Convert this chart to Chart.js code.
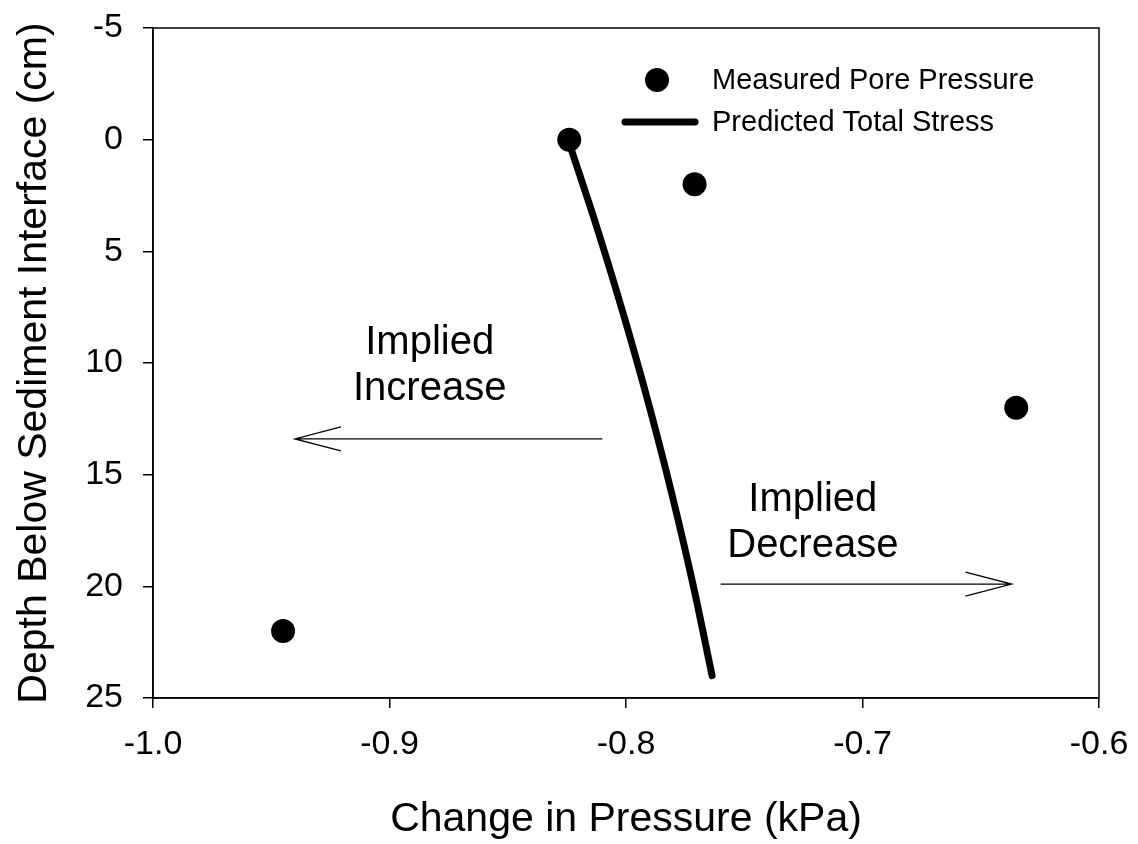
<!DOCTYPE html>
<html>
<head>
<meta charset="utf-8">
<script src="https://cdn.jsdelivr.net/npm/chart.js@4.4.1/dist/chart.umd.min.js"></script>
<style>
  html, body { margin: 0; padding: 0; background: #fff; }
  #wrap { width: 1138px; height: 844px; }
</style>
</head>
<body>
<div id="wrap"><canvas id="c" width="1138" height="844"></canvas></div>
<script>
// ---- Data ----
const measuredPressure = [-0.824, -0.771, -0.635, -0.945];
const measuredDepth = [0, 2, 12, 22];
const predictedPressure = [-0.8245, -0.8121, -0.8006, -0.7900, -0.7803, -0.7715, -0.7636];
const predictedDepth = [0, 4, 8, 12, 16, 20, 24];
const xTicks = [-1.0, -0.9, -0.8, -0.7, -0.6];
const yTicks = [-5, 0, 5, 10, 15, 20, 25];
const seriesNames = ['Measured Pore Pressure', 'Predicted Total Stress'];
const xTitle = 'Change in Pressure (kPa)';
const yTitle = 'Depth Below Sediment Interface (cm)';
const noteLines = [['Implied', 'Increase'], ['Implied', 'Decrease']];
const noteCenterX = [-0.883, -0.721];
const noteDepth = [10.15, 17.15];
const arrowFromX = [-0.810, -0.760];
const arrowToX = [-0.940, -0.637];
const arrowDepth = [13.4, 19.9];

const FONT = "'Liberation Sans', Arial, sans-serif";

const measuredData = measuredPressure.map((x, i) => ({ x, y: measuredDepth[i] }));
const predictedData = predictedPressure.map((x, i) => ({ x, y: predictedDepth[i] }));

const overlay = {
  id: 'overlay',
  afterDraw(chart) {
    const ctx = chart.ctx;
    const xs = chart.scales.x, ys = chart.scales.y;
    const a = chart.chartArea;
    ctx.save();
    // frame
    ctx.strokeStyle = '#000';
    ctx.lineWidth = 1.5;
    ctx.strokeRect(a.left, a.top, a.right - a.left, a.bottom - a.top);

    // annotation text
    ctx.fillStyle = '#000';
    ctx.font = '40px ' + FONT;
    ctx.textAlign = 'center';
    ctx.textBaseline = 'middle';
    noteLines.forEach((lines, i) => {
      const cx = xs.getPixelForValue(noteCenterX[i]);
      const cy = ys.getPixelForValue(noteDepth[i]);
      lines.forEach((t, j) => ctx.fillText(t, cx, cy + (j - 0.5) * 46));
    });

    // arrows
    ctx.lineWidth = 1.3;
    arrowFromX.forEach((fx, i) => {
      const x0 = xs.getPixelForValue(fx);
      const x1 = xs.getPixelForValue(arrowToX[i]);
      const y = ys.getPixelForValue(arrowDepth[i]);
      const dir = x1 > x0 ? 1 : -1;
      ctx.beginPath();
      ctx.moveTo(x0, y);
      ctx.lineTo(x1, y);
      ctx.moveTo(x1 - dir * 46, y - 12);
      ctx.lineTo(x1, y);
      ctx.lineTo(x1 - dir * 46, y + 12);
      ctx.stroke();
    });

    // legend
    const ds0 = chart.data.datasets[0], ds1 = chart.data.datasets[1];
    ctx.font = '29px ' + FONT;
    ctx.textAlign = 'left';
    ctx.textBaseline = 'middle';
    ctx.fillStyle = ds0.backgroundColor;
    ctx.beginPath();
    ctx.arc(657, 80, ds0.pointRadius, 0, Math.PI * 2);
    ctx.fill();
    ctx.strokeStyle = ds1.borderColor;
    ctx.lineWidth = ds1.borderWidth;
    ctx.lineCap = 'round';
    ctx.beginPath();
    ctx.moveTo(625, 122);
    ctx.lineTo(695, 122);
    ctx.stroke();
    ctx.fillStyle = '#000';
    ctx.fillText(seriesNames[0], 712, 81);
    ctx.fillText(seriesNames[1], 712, 123);
    ctx.restore();
  }
};

function zeroPad(scale) {
  scale.paddingTop = 0; scale.paddingBottom = 0;
  scale.paddingLeft = 0; scale.paddingRight = 0;
}

new Chart(document.getElementById('c'), {
  type: 'scatter',
  data: {
    datasets: [
      {
        label: seriesNames[0],
        data: measuredData,
        backgroundColor: '#000',
        borderColor: '#000',
        borderWidth: 0,
        pointRadius: 12,
        pointHoverRadius: 12,
        showLine: false,
        order: 2
      },
      {
        label: seriesNames[1],
        data: predictedData,
        showLine: true,
        borderColor: '#000',
        backgroundColor: '#000',
        borderWidth: 7,
        borderCapStyle: 'round',
        borderJoinStyle: 'round',
        pointRadius: 0,
        pointHoverRadius: 0,
        cubicInterpolationMode: 'monotone',
        order: 1
      }
    ]
  },
  options: {
    responsive: false,
    animation: false,
    events: [],
    layout: { padding: { top: 28, right: 39, left: 0, bottom: 0 } },
    plugins: { legend: { display: false }, tooltip: { enabled: false } },
    scales: {
      x: {
        type: 'linear',
        min: -1.0,
        max: -0.6,
        afterBuildTicks(scale) { scale.ticks = xTicks.map(v => ({ value: v })); },
        afterFit(scale) { scale.height = 146; zeroPad(scale); },
        ticks: {
          color: '#000',
          font: { family: FONT, size: 34 },
          padding: 16,
          maxRotation: 0,
          callback: v => Number(v).toFixed(1)
        },
        grid: { drawOnChartArea: false, drawTicks: true, tickLength: 10, color: '#000', lineWidth: 1.5 },
        border: { display: true, color: '#000', width: 1.5 },
        title: {
          display: true,
          text: xTitle,
          color: '#000',
          font: { family: FONT, size: 41 },
          padding: { top: 0, bottom: 0 }
        }
      },
      y: {
        type: 'linear',
        reverse: true,
        min: -5,
        max: 25,
        afterBuildTicks(scale) { scale.ticks = yTicks.map(v => ({ value: v })); },
        afterFit(scale) { scale.width = 153; zeroPad(scale); },
        ticks: {
          color: '#000',
          font: { family: FONT, size: 34 },
          padding: 20,
          callback: v => String(v)
        },
        grid: { drawOnChartArea: false, drawTicks: true, tickLength: 10, color: '#000', lineWidth: 1.5 },
        border: { display: true, color: '#000', width: 1.5 },
        title: {
          display: true,
          text: yTitle,
          color: '#000',
          font: { family: FONT, size: 41 },
          padding: { top: 10, bottom: 0 }
        }
      }
    }
  },
  plugins: [overlay]
});
</script>
</body>
</html>
